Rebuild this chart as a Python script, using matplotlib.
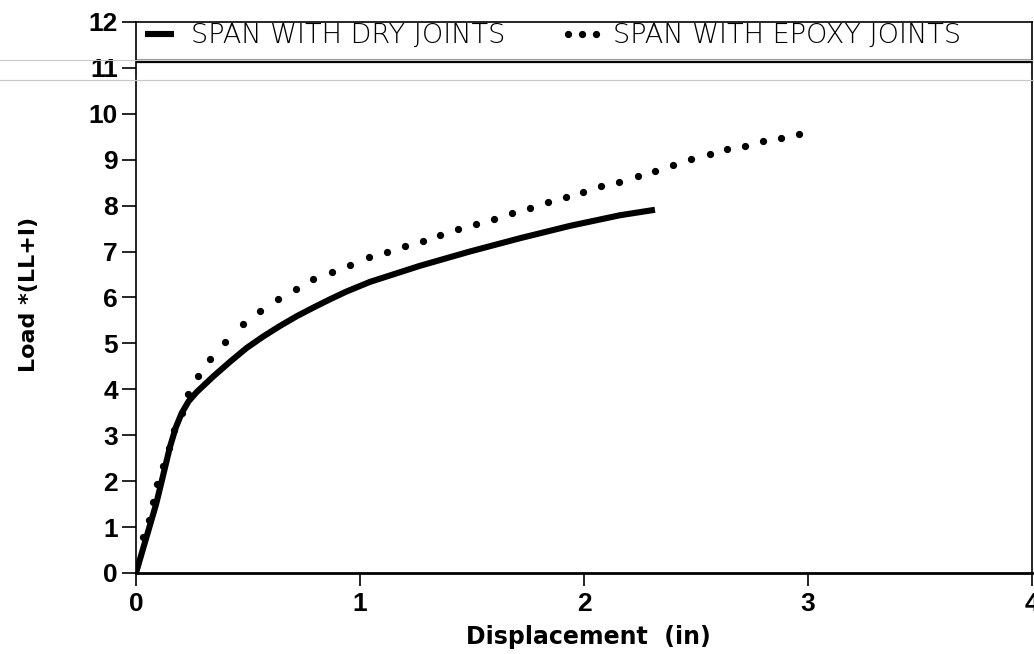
import matplotlib.pyplot as plt
from matplotlib.lines import Line2D

# Load-displacement data
dry_x = [0, 0.03, 0.06, 0.09, 0.115, 0.152, 0.178, 0.204, 0.235, 0.271, 0.345, 0.42,
         0.494, 0.568, 0.643, 0.717, 0.792, 0.866, 0.94, 1.045, 1.268, 1.49, 1.714,
         1.938, 2.16, 2.317]
dry_y = [0, 0.5, 1.0, 1.5, 2.0, 2.75, 3.17, 3.48, 3.74, 3.94, 4.28, 4.60,
         4.90, 5.15, 5.38, 5.59, 5.78, 5.96, 6.13, 6.34, 6.69, 7.0, 7.29,
         7.56, 7.79, 7.91]

epoxy_x = [0.033, 0.06, 0.077, 0.095, 0.119, 0.147, 0.171, 0.204, 0.234, 0.278, 0.33,
           0.397, 0.476, 0.554, 0.632, 0.713, 0.79, 0.873, 0.955, 1.04, 1.12, 1.20, 1.28,
           1.357, 1.436, 1.516, 1.598, 1.68, 1.759, 1.84, 1.918, 1.994, 2.076, 2.158, 2.24,
           2.317, 2.397, 2.478, 2.561, 2.638, 2.719, 2.799, 2.878, 2.96]
epoxy_y = [0.79, 1.15, 1.55, 1.94, 2.32, 2.72, 3.12, 3.49, 3.89, 4.28, 4.66,
           5.04, 5.42, 5.71, 5.96, 6.19, 6.40, 6.55, 6.71, 6.89, 6.99, 7.12, 7.23,
           7.36, 7.49, 7.60, 7.71, 7.84, 7.95, 8.07, 8.19, 8.30, 8.42, 8.52, 8.64,
           8.75, 8.89, 9.02, 9.12, 9.24, 9.30, 9.40, 9.48, 9.56]

x_ticks = [0, 1, 2, 3, 4]
y_ticks = list(range(0, 13))

plt.rcParams["font.family"] = ["Liberation Sans", "DejaVu Sans"]

fig = plt.figure(figsize=(10.34, 6.54), dpi=100)
ax = fig.add_axes([0.1315, 0.1239, 0.8665, 0.8425])

ax.plot(dry_x, dry_y, color="black", lw=4.4, solid_capstyle="butt",
        solid_joinstyle="round", label="SPAN WITH DRY JOINTS")
ax.plot(epoxy_x, epoxy_y, linestyle="none", marker="o", ms=4.2,
        color="black", label="SPAN WITH EPOXY JOINTS")

ax.set_xlim(0, 4)
ax.set_ylim(0, 12)
ax.set_xticks(x_ticks)
ax.set_yticks(y_ticks)
ax.tick_params(axis="y", direction="out", length=10, width=1.2, pad=3,
               labelsize=19, labelfontfamily="Liberation Sans")
ax.tick_params(axis="x", direction="out", length=9, width=1.2, pad=5,
               labelsize=19, labelfontfamily="Liberation Sans")
for lbl in ax.get_xticklabels() + ax.get_yticklabels():
    lbl.set_fontweight("bold")

for side in ["left", "right", "top"]:
    ax.spines[side].set_linewidth(1.2)
ax.spines["bottom"].set_linewidth(2.0)

# legend band at the top of the frame
ax.axhline(11.13, color="black", lw=1.6)
ax.axhline(11.2, color="#9a9a9a", lw=0.8)

ax.set_xlabel("Displacement  (in)", fontsize=17, fontweight="bold",
              family="DejaVu Sans")
ax.set_ylabel("Load *(LL+I)", fontsize=16, fontweight="bold",
              family="DejaVu Sans")
ax.xaxis.set_label_coords(0.505, -0.095)
ax.yaxis.set_label_coords(-0.108, 0.505)

leg = ax.legend(loc="upper left", bbox_to_anchor=(0.0, 1.0), ncol=2,
                frameon=False, numpoints=3, handlelength=1.65, handletextpad=0.33,
                columnspacing=2.0, prop={"family": "DejaVu Sans", "size": 19.5,
                                         "weight": "light"},
                borderaxespad=0.0, borderpad=0.05)

# faint scan lines running across the page
for yy in [0.909, 0.877]:
    fig.add_artist(Line2D([0, 1], [yy, yy], color="#c8c8c8", lw=0.8))

fig.savefig("out.png", dpi=100)
